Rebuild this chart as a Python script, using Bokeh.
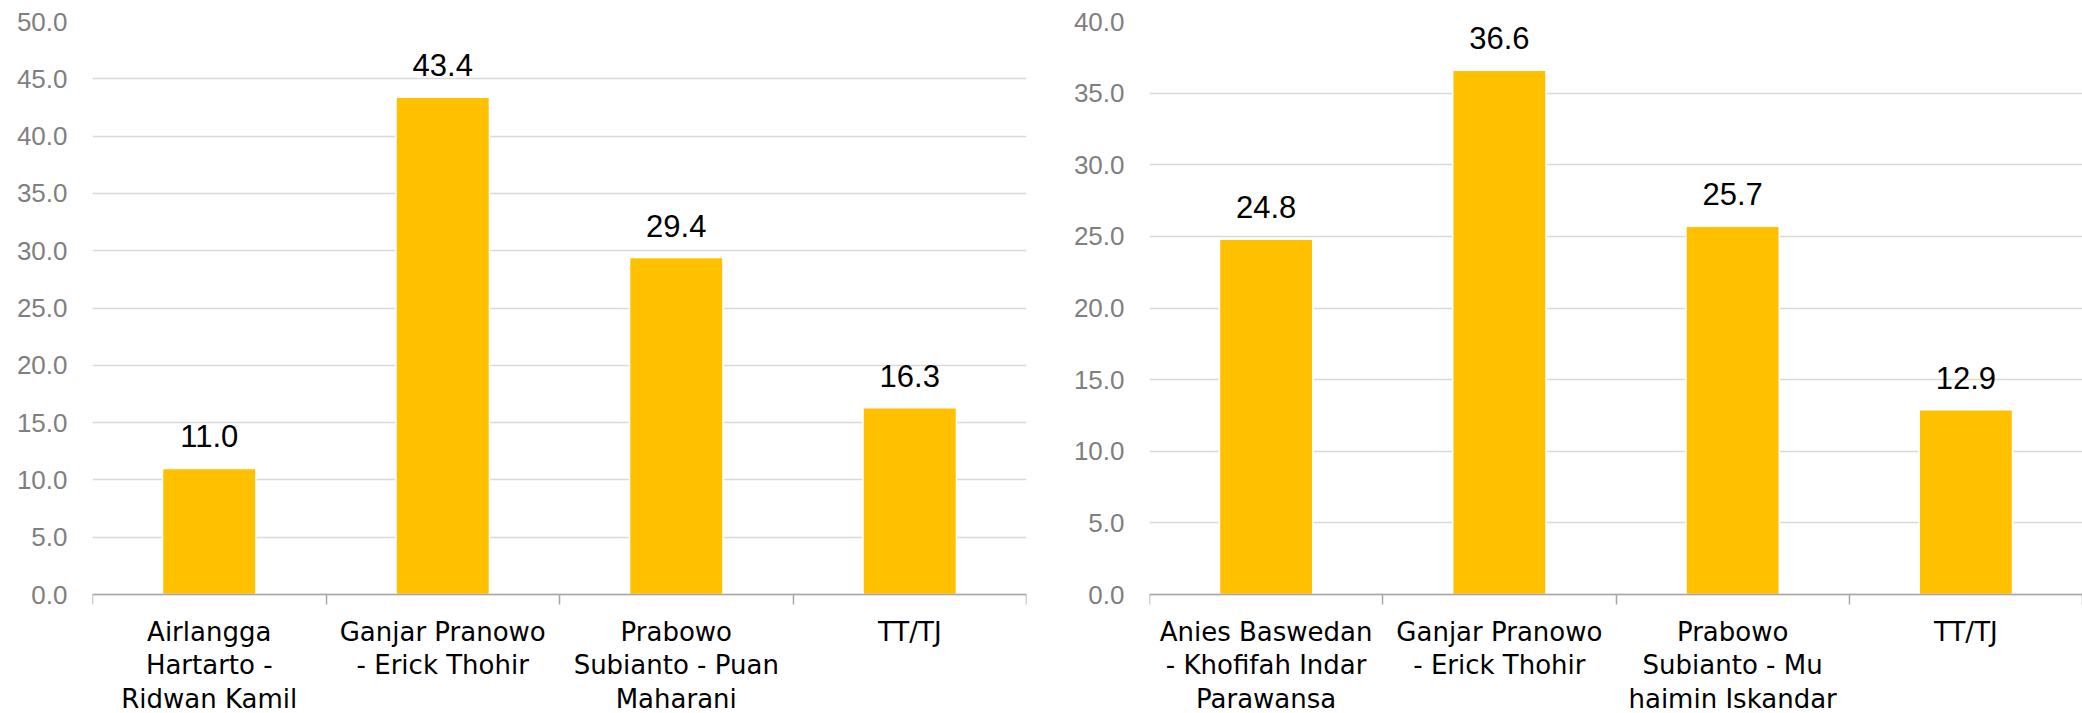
import numpy as np
from bokeh.plotting import figure
from bokeh.layouts import row
from bokeh.models import Range1d, FixedTicker, NumeralTickFormatter
from bokeh.core.properties import value
from bokeh.embed import file_html
from bokeh.resources import INLINE

# ---- data ----
left_categories = ["Airlangga\nHartarto -\nRidwan Kamil",
                   "Ganjar Pranowo\n- Erick Thohir",
                   "Prabowo\nSubianto - Puan\nMaharani",
                   "TT/TJ"]
left_values = [11.0, 43.4, 29.4, 16.3]
left_y_ticks = [0, 5, 10, 15, 20, 25, 30, 35, 40, 45, 50]

right_categories = ["Anies Baswedan\n- Khofifah Indar\nParawansa",
                    "Ganjar Pranowo\n- Erick Thohir",
                    "Prabowo\nSubianto - Mu\nhaimin Iskandar",
                    "TT/TJ"]
right_values = [24.8, 36.6, 25.7, 12.9]
right_y_ticks = [0, 5, 10, 15, 20, 25, 30, 35, 40]

BAR = "#FFC000"
GRID = "#D9D9D9"
AXIS = "#A6A6A6"
TICKTXT = "#7F7F7F"

HEIGHT = 713
TOP = 21          # pixel row of the top gridline
ZERO = 594        # pixel row of the value axis zero line


def make_panel(categories, values, yticks, width, border_left, border_right):
    n = len(categories)
    xs = list(np.arange(n) + 0.5)
    ymax = max(yticks)
    ymin = -ymax * (HEIGHT - ZERO) / (ZERO - TOP)
    p = figure(width=width, height=HEIGHT, output_backend="svg", toolbar_location=None,
               x_range=Range1d(0, n), y_range=Range1d(ymin, ymax),
               min_border_left=border_left, min_border_right=border_right,
               min_border_top=TOP, min_border_bottom=0)
    p.outline_line_color = None
    p.background_fill_color = "white"
    p.border_fill_color = "white"
    p.xgrid.grid_line_color = None
    p.ygrid.grid_line_color = GRID
    p.ygrid.grid_line_width = 1.5

    p.vbar(x=xs, top=values, bottom=0, width=0.4, fill_color=BAR,
           line_color="white", line_width=1.5)
    p.text(x=xs, y=values, text=[f"{v:.1f}" for v in values],
           text_align="center", text_baseline="alphabetic", y_offset=-32,
           text_font=value("Liberation Sans"), text_font_size="31px",
           text_color="#000000")

    # y axis
    ya = p.yaxis[0]
    ya.ticker = FixedTicker(ticks=yticks)
    ya.formatter = NumeralTickFormatter(format="0.0")
    ya.axis_line_color = None
    ya.major_tick_line_color = None
    ya.minor_tick_line_color = None
    ya.major_tick_out = 0
    ya.major_tick_in = 0
    ya.major_label_standoff = 25
    ya.major_label_text_font = "Liberation Sans"
    ya.major_label_text_font_size = "26px"
    ya.major_label_text_color = TICKTXT

    # x axis at value 0: labels at category centers, tick marks at boundaries
    xa = p.xaxis[0]
    xa.fixed_location = 0
    xa.ticker = FixedTicker(ticks=xs, minor_ticks=list(range(n + 1)))
    xa.major_label_overrides = {float(x): c for x, c in zip(xs, categories)}
    xa.axis_line_color = AXIS
    xa.axis_line_width = 1.5
    xa.major_tick_line_color = None
    xa.major_tick_out = 0
    xa.major_tick_in = 0
    xa.minor_tick_line_color = AXIS
    xa.minor_tick_line_width = 1.5
    xa.minor_tick_out = 10
    xa.minor_tick_in = 0
    xa.major_label_standoff = 12
    xa.major_label_text_font = "DejaVu Sans"
    xa.major_label_text_font_size = "26px"
    xa.major_label_text_line_height = 1.12
    xa.major_label_text_color = "#000000"
    xa.major_label_text_align = "center"
    return p


p1 = make_panel(left_categories, left_values, left_y_ticks, 1040, 92, 14)
p2 = make_panel(right_categories, right_values, right_y_ticks, 1042, 109, 0)

layout = row(p1, p2)
open("out.html", "w").write(file_html(layout, INLINE))
